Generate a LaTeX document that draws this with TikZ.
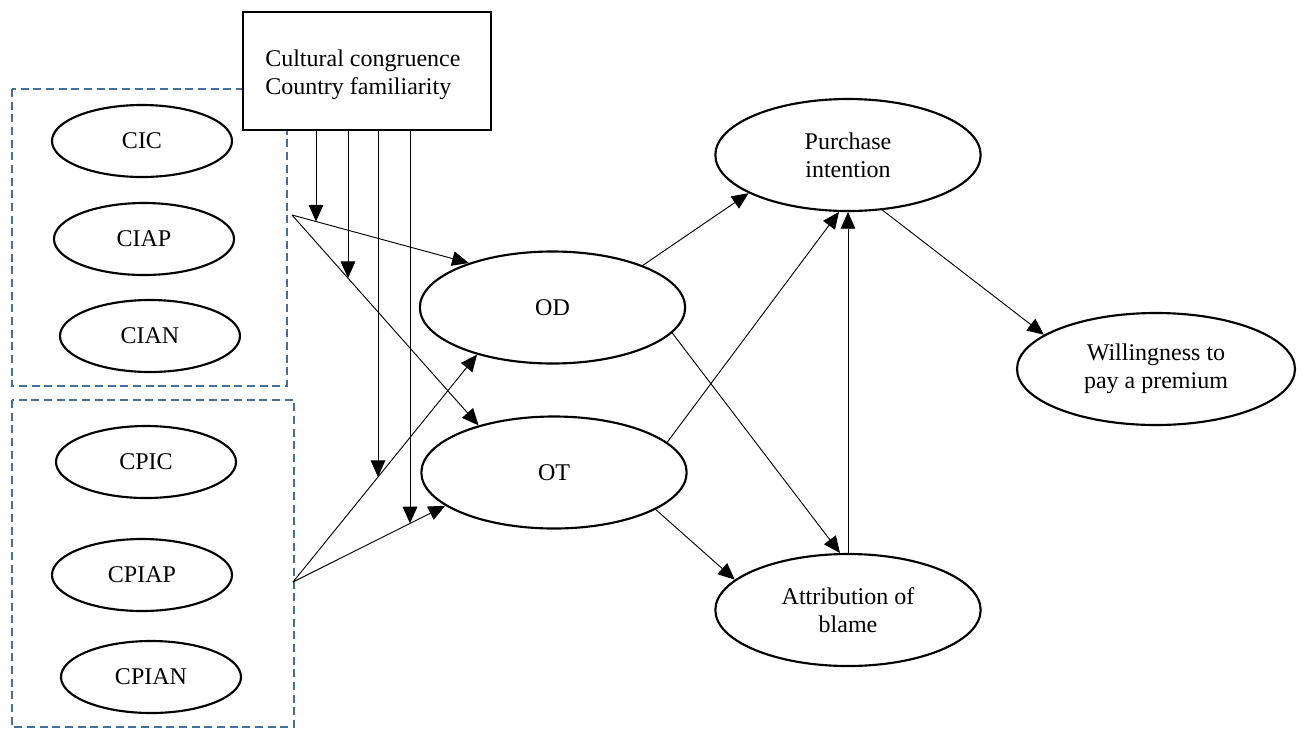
\documentclass[tikz,border=0pt]{standalone}
\usepackage{fontspec}
\setmainfont{Liberation Serif}
\usetikzlibrary{shapes.geometric,arrows.meta,intersections}
\definecolor{groupblue}{RGB}{65,113,156}
\begin{document}
\begin{tikzpicture}[x=0.75pt,y=-0.75pt,
  font=\fontsize{18}{21}\selectfont,
  construct/.style={ellipse,draw,line width=1.6pt,inner sep=0pt,minimum width=135pt,minimum height=54pt},
  latent/.style={ellipse,draw,line width=1.6pt,inner sep=0pt,minimum width=199pt,minimum height=84pt,align=center},
  group/.style={draw=groupblue,line width=1.2pt,dash pattern=on 6pt off 3.5pt},
  arr/.style={line width=0.7pt,-{Triangle[length=12.5pt,width=11pt]}},
  ]
\useasboundingbox (0,0) rectangle (1306,729);

% construct groups
\draw[group] (12,89) rectangle (287,386);
\draw[group] (12,400) rectangle (294,727);

\node[construct] (cic)   at (142,141) {CIC};
\node[construct] (ciap)  at (144,239) {CIAP};
\node[construct] (cian)  at (150,336) {CIAN};
\node[construct] (cpic)  at (146,462) {CPIC};
\node[construct] (cpiap) at (142,575) {CPIAP};
\node[construct] (cpian) at (151,677) {CPIAN};

% moderators
\node[draw,fill=white,line width=1.6pt,rectangle,minimum width=186pt,minimum height=88.5pt] (mod) at (367,71) {};
\node[anchor=west,align=left,inner sep=0pt] (modtext) at (265,75)
      {Cultural congruence\\Country familiarity};

% mediators and outcomes
\node[latent] (od)  at (552.5,307.5) {OD};
\node[latent] (ot)  at (554,472.5) {OT};
\node[latent] (pi)  at (848,155) {Purchase\\intention};
\node[latent] (ab)  at (848,610) {Attribution of\\blame};
\node[latent,minimum width=208.5pt] (wtp) at (1156,369) {Willingness to\\pay a premium};

% fork points of the two groups
\coordinate (f1) at (292,215);
\coordinate (f2) at (293,582);

\draw[arr,name path=a1] (f1) -- (od.152.5);
\draw[arr,name path=a2] (f1) -- (ot.148.3);
\draw[arr,name path=a3] (f2) -- (od.212.2);
\draw[arr,name path=a4] (f2) -- (ot.197.3);

% moderating links
\coordinate (m1) at (316,130);
\coordinate (m2) at (348,130);
\coordinate (m3) at (378,130);
\coordinate (m4) at (410,130);
\path[name path=v1] (m1) -- ++(0,600);
\path[name path=v2] (m2) -- ++(0,600);
\path[name path=v3] (m3) -- ++(0,600);
\path[name path=v4] (m4) -- ++(0,600);
\path[name intersections={of=v1 and a1,by=i1}];
\path[name intersections={of=v2 and a2,by=i2}];
\path[name intersections={of=v3 and a3,by=i3}];
\path[name intersections={of=v4 and a4,by=i4}];
\draw[arr] (m1) -- (i1);
\draw[arr] (m2) -- (i2);
\draw[arr] (m3) -- (i3);
\draw[arr] (m4) -- (i4);

% structural paths
\draw[arr] (od.25.2) -- (pi.201.5);
\draw[arr] (od.-12.6) -- (ab.98.8);
\draw[arr] (ot.15) -- (pi.261.3);
\draw[arr] (ot.-20.4) -- (ab.165.3);
\draw[arr] (ab.north) -- (pi.south);
\draw[arr] (pi.-58.8) -- (wtp.163.3);
\end{tikzpicture}
\end{document}
